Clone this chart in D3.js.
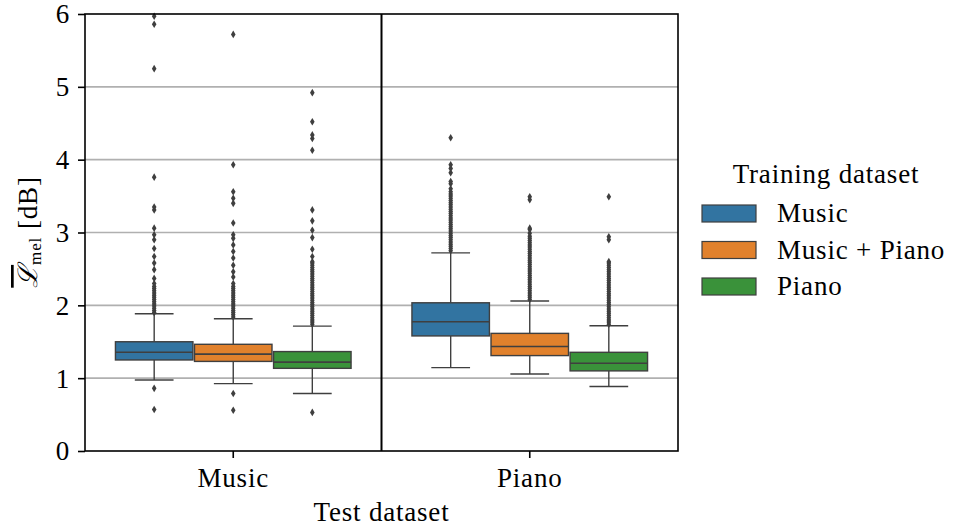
<!DOCTYPE html>
<html>
<head>
<meta charset="utf-8">
<script src="https://cdn.jsdelivr.net/npm/d3@7"></script>
<style>
  body { margin: 0; background: #fff; }
  text { font-family: "Liberation Serif", "DejaVu Serif", serif; fill: #000; letter-spacing: 0.8px; }
</style>
</head>
<body>
<div id="chart"></div>
<script>
const testSets = ["Music", "Piano"];
const trainSets = ["Music", "Music + Piano", "Piano"];
const colors = ["#3274a1", "#e1812c", "#3a923a"];
const yTicks = [0, 1, 2, 3, 4, 5, 6];

// box statistics, [test][train]
const q1 = [[1.25, 1.23, 1.135], [1.58, 1.31, 1.10]];
const medians = [[1.355, 1.33, 1.22], [1.775, 1.435, 1.205]];
const q3 = [[1.50, 1.465, 1.365], [2.035, 1.615, 1.355]];
const whiskLow = [[0.975, 0.925, 0.79], [1.145, 1.057, 0.885]];
const whiskHigh = [[1.885, 1.815, 1.715], [2.72, 2.06, 1.72]];

// outliers, [test][train]
const outMusicMusic = [0.57, 0.86, 1.90, 1.93, 1.96, 1.99, 2.02, 2.05, 2.08, 2.11, 2.14, 2.17, 2.20, 2.23, 2.26, 2.30,
  2.37, 2.49, 2.58, 2.67, 2.78, 2.90, 2.97, 3.06, 3.31, 3.35, 3.76, 5.25, 5.86, 5.97];
const outMusicMix = [0.56, 0.79, 1.84, 1.87, 1.90, 1.93, 1.96, 1.99, 2.02, 2.05, 2.08, 2.11, 2.14, 2.17, 2.20, 2.23, 2.26, 2.30,
  2.39, 2.46, 2.55, 2.65, 2.74, 2.83, 2.92, 2.97, 3.13, 3.40, 3.47, 3.56, 3.93, 5.72];
const outMusicPiano = [0.53, 1.74, 1.77, 1.80, 1.83, 1.86, 1.89, 1.92, 1.95, 1.98, 2.01, 2.04, 2.07, 2.10, 2.13, 2.16, 2.19,
  2.22, 2.25, 2.28, 2.31, 2.34, 2.37, 2.40, 2.43, 2.46, 2.49, 2.52, 2.55, 2.58, 2.60,
  2.67, 2.77, 2.93, 3.03, 3.16, 3.31, 4.13, 4.29, 4.34, 4.52, 4.92];
const outPianoMusic = [2.75, 2.78, 2.81, 2.84, 2.87, 2.90, 2.93, 2.96, 2.99, 3.02, 3.05, 3.08, 3.11, 3.14, 3.17, 3.20, 3.23,
  3.26, 3.29, 3.32, 3.35, 3.38, 3.41, 3.44, 3.47, 3.50, 3.53, 3.56, 3.60, 3.67, 3.70, 3.82, 3.88, 3.93, 4.30];
const outPianoMix = [2.08, 2.11, 2.14, 2.17, 2.20, 2.23, 2.26, 2.29, 2.32, 2.35, 2.38, 2.41, 2.44, 2.47, 2.50, 2.53, 2.56,
  2.59, 2.62, 2.65, 2.68, 2.71, 2.74, 2.77, 2.80, 2.83, 2.86, 2.89, 2.92, 2.95, 2.99, 3.04, 3.06, 3.45, 3.49];
const outPianoPiano = [1.74, 1.77, 1.80, 1.83, 1.86, 1.89, 1.92, 1.95, 1.98, 2.01, 2.04, 2.07, 2.10, 2.13, 2.16, 2.19, 2.22,
  2.25, 2.28, 2.31, 2.34, 2.37, 2.40, 2.43, 2.46, 2.49, 2.52, 2.55, 2.58, 2.60, 2.90, 2.94, 3.49];
const outliers = [[outMusicMusic, outMusicMix, outMusicPiano], [outPianoMusic, outPianoMix, outPianoPiano]];

const W = 956, H = 530;
const mLeft = 85, mRight = 678, mTop = 14, mBottom = 451;
const gray = "#3f3f3f";
const fs = "27px";

const svg = d3.select("#chart").append("svg")
    .attr("width", W)
    .attr("height", H);

const x = d3.scaleBand()
    .domain(testSets)
    .range([mLeft, mRight]);

const y = d3.scaleLinear()
    .domain([0, 6])
    .range([mBottom, mTop]);

const hue = d3.scaleBand()
    .domain(trainSets)
    .range([-0.4 * x.bandwidth(), 0.4 * x.bandwidth()]);

// grid
svg.append("g")
    .selectAll("line")
    .data(yTicks.slice(1, -1))
    .enter().append("line")
    .attr("x1", mLeft)
    .attr("x2", mRight)
    .attr("y1", d => y(d))
    .attr("y2", d => y(d))
    .attr("stroke", "#b0b0b0")
    .attr("stroke-width", 1.6);

// boxes
const boxW = hue.bandwidth() * 0.98;
testSets.forEach((t, ti) => {
    trainSets.forEach((s, si) => {
        const cx = x(t) + x.bandwidth() / 2 + hue(s) + hue.bandwidth() / 2;
        const g = svg.append("g");

        g.append("line")
            .attr("x1", cx).attr("x2", cx)
            .attr("y1", y(q3[ti][si])).attr("y2", y(whiskHigh[ti][si]))
            .attr("stroke", gray).attr("stroke-width", 1.4);
        g.append("line")
            .attr("x1", cx).attr("x2", cx)
            .attr("y1", y(q1[ti][si])).attr("y2", y(whiskLow[ti][si]))
            .attr("stroke", gray).attr("stroke-width", 1.4);

        [whiskLow[ti][si], whiskHigh[ti][si]].forEach(v => {
            g.append("line")
                .attr("x1", cx - boxW / 4).attr("x2", cx + boxW / 4)
                .attr("y1", y(v)).attr("y2", y(v))
                .attr("stroke", gray).attr("stroke-width", 1.4);
        });

        g.append("rect")
            .attr("x", cx - boxW / 2)
            .attr("width", boxW)
            .attr("y", y(q3[ti][si]))
            .attr("height", y(q1[ti][si]) - y(q3[ti][si]))
            .attr("fill", colors[si])
            .attr("stroke", gray)
            .attr("stroke-width", 1.4);

        g.append("line")
            .attr("x1", cx - boxW / 2).attr("x2", cx + boxW / 2)
            .attr("y1", y(medians[ti][si])).attr("y2", y(medians[ti][si]))
            .attr("stroke", gray).attr("stroke-width", 1.6);

        g.selectAll(".flier")
            .data(outliers[ti][si])
            .enter().append("path")
            .attr("class", "flier")
            .attr("transform", d => `translate(${cx},${y(d)})`)
            .attr("d", "M0,-3.8L2.3,0L0,3.8L-2.3,0Z")
            .attr("fill", gray);
    });
});

// frame and divider
svg.append("rect")
    .attr("x", mLeft).attr("y", mTop)
    .attr("width", mRight - mLeft).attr("height", mBottom - mTop)
    .attr("fill", "none")
    .attr("stroke", "#000")
    .attr("stroke-width", 1.6);

svg.append("line")
    .attr("x1", x("Piano")).attr("x2", x("Piano"))
    .attr("y1", mTop).attr("y2", mBottom)
    .attr("stroke", "#000")
    .attr("stroke-width", 2);

// axes
const yAxis = svg.append("g")
    .attr("transform", `translate(${mLeft},0)`)
    .call(d3.axisLeft(y).tickValues(yTicks).tickFormat(d3.format("d")).tickSize(7).tickPadding(8));
yAxis.select(".domain").remove();
yAxis.selectAll(".tick line").attr("stroke", "#000").attr("stroke-width", 1.6);
yAxis.selectAll(".tick text")
    .attr("font-family", "Liberation Serif, serif")
    .style("font-size", fs)
    .attr("dy", "0.33em");

const xAxis = svg.append("g")
    .attr("transform", `translate(0,${mBottom})`)
    .call(d3.axisBottom(x).tickSize(7).tickPadding(6));
xAxis.select(".domain").remove();
xAxis.selectAll(".tick line").attr("stroke", "#000").attr("stroke-width", 1.6);
xAxis.selectAll(".tick text")
    .attr("font-family", "Liberation Serif, serif")
    .style("font-size", fs)
    .attr("dy", "0.87em");

svg.append("text")
    .attr("x", (mLeft + mRight) / 2)
    .attr("y", 521)
    .attr("text-anchor", "middle")
    .style("font-size", fs)
    .text("Test dataset");

// y label
const yl = svg.append("text")
    .attr("transform", "translate(37,232) rotate(-90)")
    .attr("text-anchor", "middle")
    .style("font-size", fs);
yl.append("tspan")
    .style("text-decoration", "overline")
    .style("font-style", "italic")
    .text("\u2112");
yl.append("tspan")
    .attr("baseline-shift", "-25%")
    .style("font-size", "17px")
    .text("mel");
yl.append("tspan")
    .attr("dx", 8)
    .attr("dy", 0)
    .text("[dB]");

// legend
const legend = svg.append("g");
legend.append("text")
    .attr("x", 826)
    .attr("y", 183)
    .attr("text-anchor", "middle")
    .style("font-size", fs)
    .text("Training dataset");

trainSets.forEach((s, i) => {
    const ly = 205 + i * 36.5;
    legend.append("rect")
        .attr("x", 702)
        .attr("y", ly)
        .attr("width", 54)
        .attr("height", 17)
        .attr("fill", colors[i])
        .attr("stroke", gray)
        .attr("stroke-width", 1.2);
    legend.append("text")
        .attr("x", 777)
        .attr("y", ly + 17)
        .style("font-size", fs)
        .text(s);
});
</script>
</body>
</html>
